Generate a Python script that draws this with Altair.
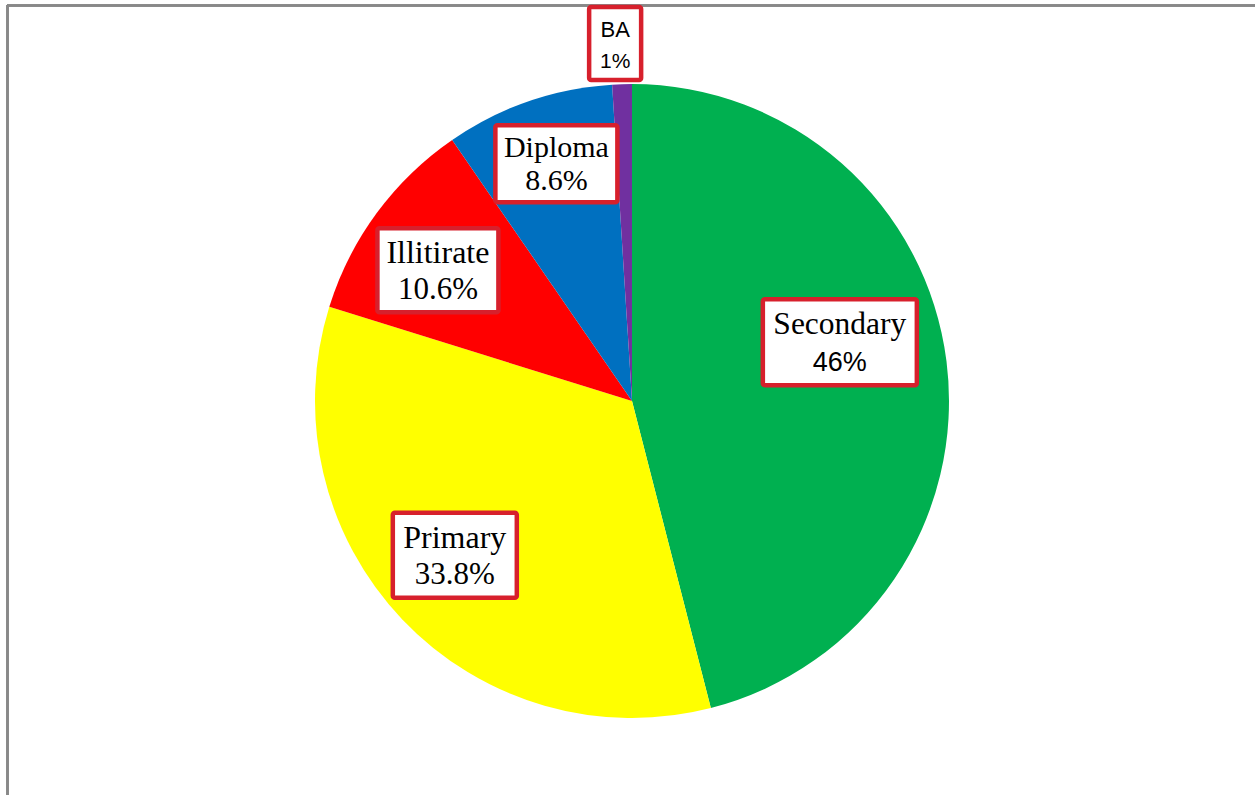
import math
import altair as alt
import pandas as pd

# ---- data ----
categories = ["Secondary", "Primary", "Illitirate", "Diploma", "BA"]
values = [46, 33.8, 10.6, 8.6, 1]
pct_labels = ["46%", "33.8%", "10.6%", "8.6%", "1%"]
colors = ["#00B050", "#FFFF00", "#FF0000", "#0070C0", "#7030A0"]

# ---- layout (label placement / styling) ----
W, H = 1255, 795
CX, CY, R = 632, 401, 317
label_r = [216, 235, 234, 249, 358]
label_shift = [-8.6, 2.5, -2.4, 1.4, -0.9]
box_w = [154, 124, 121, 122, 52]
box_h = [86, 85, 84, 77, 73]
name_font = ["Liberation Serif"] * 4 + ["Liberation Sans"]
name_size = [31.5, 32, 32, 30, 22]
pct_font = ["Liberation Sans", "Liberation Serif", "Liberation Serif", "Liberation Serif", "Liberation Sans"]
pct_size = [27, 31, 31, 30, 21]

total = sum(values)
rows = []
cum = 0.0
for i, (c, v) in enumerate(zip(categories, values)):
    mid = (cum + v / 2) / total * 360.0 + label_shift[i]
    cum += v
    a = math.radians(mid)
    bx = CX + label_r[i] * math.sin(a)
    by = CY - label_r[i] * math.cos(a)
    rows.append({
        "category": c, "value": v, "idx": i, "pct": pct_labels[i],
        "bx": bx, "by": by,
        "x1": bx - box_w[i] / 2, "x2": bx + box_w[i] / 2,
        "y1": by - box_h[i] / 2, "y2": by + box_h[i] / 2,
        "name_y": by - 0.09 * box_h[i], "pct_y": by + 0.34 * box_h[i],
        "name_font": name_font[i], "name_size": name_size[i],
        "pct_font": pct_font[i], "pct_size": pct_size[i],
    })
df = pd.DataFrame(rows)

base = alt.Chart(df)

pie = base.mark_arc(outerRadius=R).encode(
    theta=alt.Theta("value:Q", stack=True),
    order=alt.Order("idx:Q"),
    color=alt.Color("category:N", scale=alt.Scale(domain=categories, range=colors), legend=None),
    x=alt.value(CX),
    y=alt.value(CY),
)

boxes = base.mark_rect(fill="white", stroke="#D7202C", strokeWidth=4.5, cornerRadius=2).encode(
    x=alt.X("x1:Q", scale=None, axis=None),
    x2="x2:Q",
    y=alt.Y("y1:Q", scale=None, axis=None),
    y2="y2:Q",
)

text_layers = []
for fam in ["Liberation Serif", "Liberation Sans"]:
    text_layers.append(
        base.transform_filter(alt.datum.name_font == fam)
        .mark_text(font=fam, color="black", baseline="alphabetic", align="center")
        .encode(
            x=alt.X("bx:Q", scale=None),
            y=alt.Y("name_y:Q", scale=None),
            text="category:N",
            size=alt.Size("name_size:Q", scale=None, legend=None),
        )
    )
    text_layers.append(
        base.transform_filter(alt.datum.pct_font == fam)
        .mark_text(font=fam, color="black", baseline="alphabetic", align="center")
        .encode(
            x=alt.X("bx:Q", scale=None),
            y=alt.Y("pct_y:Q", scale=None),
            text="pct:N",
            size=alt.Size("pct_size:Q", scale=None, legend=None),
        )
    )

frame_top = base.mark_rule(color="#888888", strokeWidth=2).encode(
    x=alt.value(7), x2=alt.value(W), y=alt.value(5.5)
)
frame_left = base.mark_rule(color="#888888", strokeWidth=2).encode(
    x=alt.value(7.5), y=alt.value(5), y2=alt.value(H)
)

chart = alt.layer(frame_top, frame_left, pie, boxes, *text_layers).properties(
    width=W, height=H, padding=0, autosize=alt.AutoSizeParams(type="none"),
    background="white",
).configure_view(stroke=None)

chart.save("out.html", embed_options={"renderer": "svg", "actions": False})
